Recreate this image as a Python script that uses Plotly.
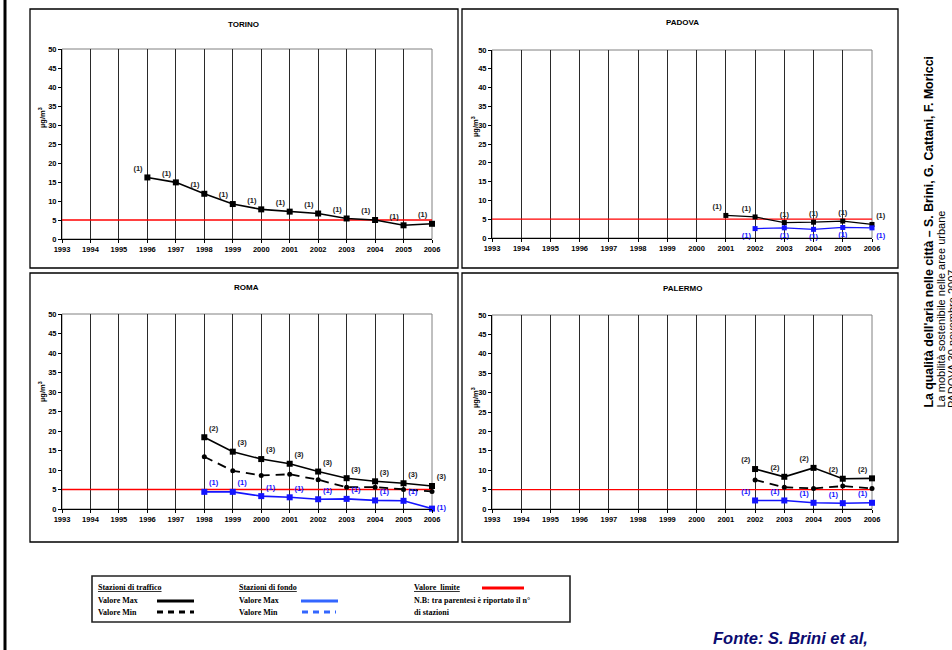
import plotly.graph_objects as go

# ---------------- data ----------------
limit_value = 5
axis_years = list(range(1993, 2007))

torino_years = [1996, 1997, 1998, 1999, 2000, 2001, 2002, 2003, 2004, 2005, 2006]
torino_traffic_max = [16.2, 14.9, 11.9, 9.2, 7.8, 7.2, 6.7, 5.4, 5.0, 3.6, 4.0]
torino_traffic_n = ["(1)", "(1)", "(1)", "(1)", "(1)", "(1)", "(1)", "(1)", "(1)", "(1)", "(1)"]

padova_traffic_years = [2001, 2002, 2003, 2004, 2005, 2006]
padova_traffic_max = [6.0, 5.6, 4.1, 4.2, 4.5, 3.6]
padova_traffic_n = ["(1)", "(1)", "(1)", "(1)", "(1)", "(1)"]
padova_bg_years = [2002, 2003, 2004, 2005, 2006]
padova_bg_max = [2.5, 2.7, 2.3, 2.8, 2.7]
padova_bg_n = ["(1)", "(1)", "(1)", "(1)", "(1)"]

roma_years = [1998, 1999, 2000, 2001, 2002, 2003, 2004, 2005, 2006]
roma_traffic_max = [18.4, 14.7, 12.8, 11.6, 9.6, 7.9, 7.1, 6.6, 5.9]
roma_traffic_n = ["(2)", "(3)", "(3)", "(3)", "(3)", "(3)", "(3)", "(3)", "(3)"]
roma_traffic_min = [13.4, 9.8, 8.6, 8.9, 7.5, 5.6, 5.6, 5.0, 4.5]
roma_bg_max = [4.4, 4.4, 3.3, 3.0, 2.5, 2.6, 2.2, 2.1, 0.1]
roma_bg_n = ["(1)", "(1)", "(1)", "(1)", "(1)", "(1)", "(1)", "(1)", "(1)"]

palermo_years = [2002, 2003, 2004, 2005, 2006]
palermo_traffic_max = [10.3, 8.3, 10.6, 7.8, 7.9]
palermo_traffic_n = ["(2)", "(2)", "(2)", "(2)", "(2)"]
palermo_traffic_min = [7.5, 5.6, 5.3, 5.9, 5.3]
palermo_bg_max = [2.2, 2.2, 1.6, 1.5, 1.6]
palermo_bg_n = ["(1)", "(1)", "(1)", "(1)", "(1)"]

# ---------------- helpers ----------------
W, H = 952, 650


def px(x):
    return x / W


def py(y):
    return 1 - y / H


SANS = "Liberation Sans, Arial, sans-serif"
SERIF = "Liberation Serif, Times New Roman, serif"
BLACK = "#000000"
BLUE = "#1414ff"
RED = "#ff0000"
GRID = "#2a2a2a"

fig = go.Figure()

panels = [
    dict(name="TORINO", box=(30, 9, 458, 268), plot=(62, 49, 432, 239), title=(244, 24), ytitle=(42, 118)),
    dict(name="PADOVA", box=(462, 9, 898, 268), plot=(492, 50, 872, 238), title=(682, 23), ytitle=(475, 127)),
    dict(name="ROMA", box=(30, 273, 458, 542), plot=(62, 314, 432, 509), title=(246, 287), ytitle=(42, 392)),
    dict(name="PALERMO", box=(462, 273, 898, 542), plot=(492, 315, 872, 509), title=(682, 288), ytitle=(475, 398)),
]

shapes = []
annotations = []
layout_axes = {}

for i, p in enumerate(panels, start=1):
    x0, y0, x1, y1 = p["plot"]
    xs = "xaxis" if i == 1 else f"xaxis{i}"
    ys = "yaxis" if i == 1 else f"yaxis{i}"
    xr = "x" if i == 1 else f"x{i}"
    yr = "y" if i == 1 else f"y{i}"
    layout_axes[xs] = dict(
        domain=[px(x0), px(x1)], anchor=yr, range=[1993, 2006],
        tickmode="array", tickvals=axis_years, ticktext=[str(y) for y in axis_years],
        showgrid=True, gridcolor=GRID, gridwidth=1,
        showline=True, linecolor=BLACK, linewidth=1,
        ticks="outside", ticklen=3, tickcolor=BLACK,
        tickfont=dict(family=SANS, size=7.5, color=BLACK, weight="bold"),
        zeroline=False, fixedrange=True, automargin=False,
    )
    layout_axes[ys] = dict(
        domain=[py(y1), py(y0)], anchor=xr, range=[0, 50],
        tickmode="linear", tick0=0, dtick=5,
        showgrid=False, showline=True, linecolor=BLACK, linewidth=1,
        ticks="outside", ticklen=3, tickcolor=BLACK,
        tickfont=dict(family=SANS, size=7.5, color=BLACK, weight="bold"),
        zeroline=False, fixedrange=True, automargin=False,
    )
    bx0, by0, bx1, by1 = p["box"]
    shapes.append(dict(type="rect", xref="paper", yref="paper",
                       x0=px(bx0), x1=px(bx1), y0=py(by1), y1=py(by0),
                       line=dict(color=BLACK, width=1.3), fillcolor="rgba(0,0,0,0)", layer="below"))
    shapes.append(dict(type="rect", xref="paper", yref="paper",
                       x0=px(x0), x1=px(x1), y0=py(y1), y1=py(y0),
                       line=dict(color="#808080", width=1), fillcolor="rgba(0,0,0,0)", layer="below"))
    tx, ty = p["title"]
    annotations.append(dict(x=px(tx), y=py(ty), xref="paper", yref="paper", text=p["name"],
                            showarrow=False, xanchor="center", yanchor="middle",
                            font=dict(family=SANS, size=8, color=BLACK, weight="bold")))
    ax_, ay_ = p["ytitle"]
    annotations.append(dict(x=px(ax_), y=py(ay_), xref="paper", yref="paper", text="µg/m<sup>3</sup>",
                            showarrow=False, xanchor="center", yanchor="middle", textangle=-90,
                            font=dict(family=SANS, size=7.5, color=BLACK, weight="bold")))
    fig.add_trace(go.Scatter(x=[axis_years[0], axis_years[-1]], y=[limit_value, limit_value],
                             mode="lines", line=dict(color=RED, width=1.3),
                             xaxis=xr, yaxis=yr, hoverinfo="skip"))

LBL = dict(family=SANS, size=7.5, weight="bold")


def add_max(xv, yv, labels, pos, color, axis, width=1.6, msize=6):
    xr = "x" if axis == 1 else f"x{axis}"
    yr = "y" if axis == 1 else f"y{axis}"
    fig.add_trace(go.Scatter(x=xv, y=yv, mode="lines+markers+text", text=labels,
                             textposition=pos, textfont=dict(color=color if color != BLACK else "#222222", **LBL),
                             line=dict(color=color, width=width),
                             marker=dict(symbol="square", size=msize, color=color),
                             xaxis=xr, yaxis=yr, cliponaxis=False))


def add_min(xv, yv, color, axis):
    xr = "x" if axis == 1 else f"x{axis}"
    yr = "y" if axis == 1 else f"y{axis}"
    fig.add_trace(go.Scatter(x=xv, y=yv, mode="lines+markers",
                             line=dict(color=color, width=1.8, dash="9px,6px"),
                             marker=dict(symbol="circle", size=5, color=color),
                             xaxis=xr, yaxis=yr, cliponaxis=False))


add_max(torino_years, torino_traffic_max, torino_traffic_n, "top left", BLACK, 1)
add_max(padova_traffic_years, padova_traffic_max, padova_traffic_n,
        ["top left", "top left", "top center", "top center", "top center", "top right"], BLACK, 2, width=1.2, msize=5)
add_max(padova_bg_years, padova_bg_max, padova_bg_n,
        ["bottom left", "bottom center", "bottom center", "bottom center", "bottom right"], BLUE, 2, width=1.2, msize=5)
add_min(roma_years, roma_traffic_min, BLACK, 3)
add_max(roma_years, roma_traffic_max, roma_traffic_n, "top right", BLACK, 3)
add_max(roma_years, roma_bg_max, roma_bg_n,
        ["top right"] * (len(roma_years) - 1) + ["middle right"], BLUE, 3)
add_min(palermo_years, palermo_traffic_min, BLACK, 4)
add_max(palermo_years, palermo_traffic_max, palermo_traffic_n, "top left", BLACK, 4)
add_max(palermo_years, palermo_bg_max, palermo_bg_n, "top left", BLUE, 4)

# left black bar
shapes.append(dict(type="line", xref="paper", yref="paper", x0=px(5), x1=px(5), y0=0, y1=1,
                   line=dict(color=BLACK, width=3)))

# legend box
LX0, LY0, LX1, LY1 = 92, 576, 570, 622
shapes.append(dict(type="rect", xref="paper", yref="paper", x0=px(LX0), x1=px(LX1), y0=py(LY1), y1=py(LY0),
                   line=dict(color="#222222", width=1.6), fillcolor="rgba(0,0,0,0)"))
LEGF = dict(family=SERIF, size=8, color=BLACK, weight="bold")


def legtext(x, y, t):
    annotations.append(dict(x=px(x), y=py(y), xref="paper", yref="paper", text=t, showarrow=False,
                            xanchor="left", yanchor="middle", font=LEGF))


def legline(x0, x1, y, color, dash="solid"):
    shapes.append(dict(type="line", xref="paper", yref="paper", x0=px(x0), x1=px(x1), y0=py(y), y1=py(y),
                       line=dict(color=color, width=3, dash=dash)))


legtext(96, 587, "<u>Stazioni di traffico</u>")
legtext(96, 600, "Valore Max")
legtext(96, 612, "Valore Min")
legline(157, 194, 601, BLACK)
legline(157, 194, 612, BLACK, "6px,5px")
legtext(237, 587, "<u>Stazioni di fondo</u>")
legtext(237, 600, "Valore Max")
legtext(237, 612, "Valore Min")
legline(301, 338, 601, "#3366ff")
legline(302, 336, 612, "#3366ff", "6px,5px")
legtext(412, 587, "<u>Valore  limite</u>")
legline(482, 524, 588, RED)
legtext(412, 600, "N.B: tra parentesi è riportato il n°")
legtext(412, 612, "di stazioni")

annotations.append(dict(x=px(711), y=py(638), xref="paper", yref="paper", text="<i><b>Fonte: S. Brini et al,</b></i>",
                        showarrow=False, xanchor="left", yanchor="middle",
                        font=dict(family=SANS, size=16.5, color="#0b0b70")))

annotations.append(dict(x=px(928), y=py(410), xref="paper", yref="paper",
                        text="<b>La qualità dell'aria nelle città – S. Brini, G. Cattani, F. Moricci</b>",
                        showarrow=False, textangle=-90, xanchor="center", yanchor="bottom",
                        font=dict(family=SANS, size=12.3, color=BLACK)))
annotations.append(dict(x=px(940), y=py(410), xref="paper", yref="paper",
                        text="La mobilità sostenibile nelle aree urbane",
                        showarrow=False, textangle=-90, xanchor="center", yanchor="bottom",
                        font=dict(family=SANS, size=11, color=BLACK)))
annotations.append(dict(x=px(952), y=py(410), xref="paper", yref="paper",
                        text="PADOVA 30 novembre 2007",
                        showarrow=False, textangle=-90, xanchor="center", yanchor="bottom",
                        font=dict(family=SANS, size=11, color=BLACK)))

fig.update_layout(
    width=W, height=H, autosize=False, margin=dict(l=0, r=0, t=0, b=0, pad=0, autoexpand=False),
    paper_bgcolor="white", plot_bgcolor="white", showlegend=False,
    shapes=shapes, annotations=annotations, **layout_axes,
)

fig.write_html("out.html", config={"displayModeBar": False},
               post_script="document.body.style.margin='0';document.body.style.overflow='hidden';")
